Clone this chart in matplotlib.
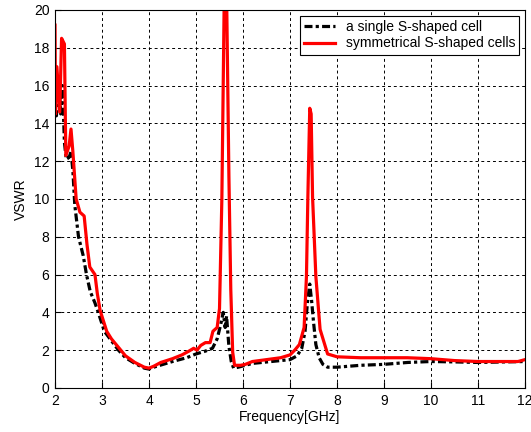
import numpy as np
import matplotlib.pyplot as plt

plt.rcParams['font.family'] = ['Liberation Sans', 'DejaVu Sans']

# measured VSWR, one S-shaped cell
freq_single = [2.0, 2.03, 2.08, 2.12, 2.16, 2.2, 2.24, 2.3, 2.34, 2.38, 2.42, 2.5,
               2.6, 2.67, 2.75, 2.85, 2.92, 3.05, 3.2, 3.35, 3.5, 3.7, 3.9, 4.0,
               4.1, 4.3, 4.5, 4.8, 5.0, 5.2, 5.35, 5.45, 5.52, 5.58, 5.62, 5.65,
               5.7, 5.75, 5.8, 5.9, 6.2, 6.6, 7.0, 7.15, 7.25, 7.32, 7.37, 7.42,
               7.46, 7.5, 7.55, 7.62, 7.7, 7.8, 8.0, 8.5, 9.0, 9.5, 10.0, 10.5,
               11.0, 12.0]
vswr_single = [14.5, 14.4, 16.3, 14.5, 16.0, 13.0, 12.1, 12.2, 12.5, 11.5, 9.7, 8.0,
               7.0, 6.0, 5.1, 4.5, 4.0, 3.0, 2.5, 2.0, 1.6, 1.3, 1.05, 1.0,
               1.1, 1.25, 1.4, 1.6, 1.8, 1.95, 2.1, 2.6, 3.3, 4.0, 3.2, 3.8,
               2.2, 1.4, 1.05, 1.1, 1.3, 1.4, 1.5, 1.7, 2.1, 3.0, 4.5, 5.5,
               4.6, 3.5, 2.3, 1.6, 1.25, 1.1, 1.1, 1.2, 1.25, 1.35, 1.4, 1.38,
               1.35, 1.4]

# measured VSWR, symmetrical pair of S-shaped cells
freq_sym = [2.0, 2.01, 2.04, 2.1, 2.14, 2.2, 2.23, 2.3, 2.34, 2.38, 2.45, 2.53,
            2.62, 2.68, 2.74, 2.85, 2.9, 2.96, 3.1, 3.2, 3.3, 3.5, 3.7, 3.9,
            4.0, 4.1, 4.25, 4.5, 4.7, 4.85, 4.95, 5.02, 5.1, 5.2, 5.3, 5.36,
            5.45, 5.5, 5.55, 5.6, 5.65, 5.7, 5.74, 5.78, 5.82, 5.95, 6.05, 6.2,
            6.5, 6.8, 7.0, 7.1, 7.2, 7.3, 7.35, 7.38, 7.42, 7.45, 7.48, 7.55,
            7.64, 7.8, 8.0, 8.5, 9.0, 9.5, 10.0, 10.5, 11.0, 11.5, 11.85, 12.0]
vswr_sym = [19.2, 14.5, 17.0, 14.6, 18.5, 18.2, 12.3, 12.8, 13.7, 12.5, 10.0, 9.3,
            9.1, 7.6, 6.4, 6.0, 5.0, 4.1, 3.0, 2.6, 2.3, 1.7, 1.35, 1.1,
            1.05, 1.15, 1.35, 1.55, 1.75, 1.95, 2.1, 2.0, 2.25, 2.4, 2.4, 3.0,
            3.2, 4.2, 10.0, 20.5, 21.0, 11.2, 5.2, 1.9, 1.2, 1.2, 1.25, 1.4,
            1.5, 1.6, 1.75, 2.0, 2.3, 3.2, 5.9, 10.1, 14.8, 14.5, 10.1, 5.9,
            3.1, 1.8, 1.65, 1.6, 1.6, 1.6, 1.55, 1.45, 1.4, 1.4, 1.4, 1.5]

fig = plt.figure(figsize=(5.31, 4.32), dpi=100)
ax = fig.add_axes([0.1036, 0.1019, 0.8851, 0.875])

ax.plot(freq_single, vswr_single, color='black', linestyle=(0, (2.5, 1, 1, 1)),
        linewidth=2.3, label='a single S-shaped cell')
ax.plot(freq_sym, vswr_sym, color='red', linestyle='-', linewidth=2.3,
        label='symmetrical S-shaped cells')

ax.set_xlim(2, 12)
ax.set_ylim(0, 20)
ax.set_xticks(np.arange(2, 13, 1))
ax.set_yticks(np.arange(0, 21, 2))
ax.grid(True, color='black', linestyle=(0, (3, 3)), linewidth=0.7)
ax.tick_params(direction='in', length=4, labelsize=10, pad=4)
for s in ax.spines.values():
    s.set_linewidth(0.8)

ax.set_xlabel('Frequency[GHz]', fontsize=10, labelpad=2)
ax.set_ylabel('VSWR', fontsize=10, labelpad=4)

leg = ax.legend(loc='upper right', fontsize=10, fancybox=False, framealpha=1,
                edgecolor='black', borderaxespad=0.4, handlelength=2.2,
                labelspacing=0.2, borderpad=0.3)
leg.get_frame().set_linewidth(0.8)

fig.savefig('out.png', dpi=100)
